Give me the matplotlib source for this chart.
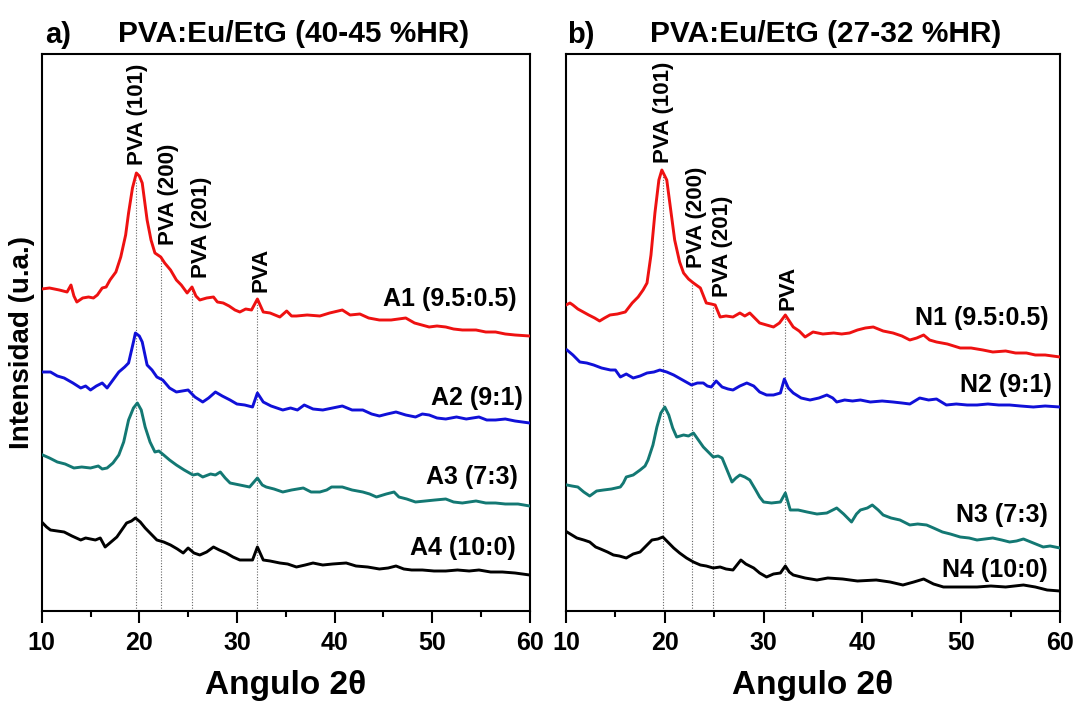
import matplotlib
matplotlib.use("Agg")
import matplotlib.pyplot as plt
from matplotlib.ticker import MultipleLocator

plt.rcParams["font.family"] = ["Liberation Sans", "DejaVu Sans"]
plt.rcParams["font.weight"] = "bold"

# ---- data (angle 2theta, intensity a.u.) ----
a1_x = [10.0, 10.8, 11.8, 12.6, 13.0, 13.3, 13.6, 14.2, 14.8, 15.3, 15.7, 16.2, 16.6, 17.0, 17.6, 18.1,
        18.6, 18.9, 19.3, 19.7, 20.0, 20.3, 20.8, 21.2, 21.6, 22.2, 22.6, 23.2, 23.8, 24.3, 24.9, 25.4,
        25.8, 26.2, 26.9, 27.6, 28.0, 28.6, 29.2, 29.8, 30.3, 30.9, 31.5, 32.1, 32.7, 33.4, 34.4, 35.1,
        35.6, 36.1, 37.2, 38.5, 39.5, 40.8, 41.6, 42.6, 43.5, 44.6, 45.8, 47.3, 48.2, 49.7, 50.5, 51.4,
        52.2, 53.1, 54.5, 55.5, 56.5, 57.5, 58.5, 60.0]
a1_y = [322, 323, 321, 319, 326, 315, 309, 313, 314, 313, 316, 323, 324, 331, 339, 354,
        376, 398, 423, 438, 435, 428, 391, 371, 358, 354, 348, 341, 331, 326, 318, 324,
        315, 311, 313, 314, 309, 308, 305, 301, 299, 302, 301, 312, 299, 298, 294, 300,
        295, 295, 296, 295, 298, 301, 296, 297, 293, 291, 291, 293, 288, 284, 285, 284,
        282, 281, 281, 279, 279, 277, 276, 275]

a2_x = [10.1, 10.9, 11.6, 12.3, 13.2, 14.0, 14.5, 15.0, 15.6, 16.2, 16.7, 17.3, 17.9, 18.5, 18.9, 19.4,
        19.6, 20.0, 20.3, 20.8, 21.3, 21.8, 22.4, 23.1, 23.8, 24.4, 25.0, 25.7, 26.5, 27.1, 27.8, 28.5,
        29.3, 30.0, 30.8, 31.6, 32.1, 32.7, 33.5, 34.7, 35.5, 36.2, 36.9, 37.8, 38.8, 39.8, 40.8, 41.8,
        42.9, 43.8, 44.6, 45.4, 46.3, 47.3, 48.3, 49.0, 49.7, 50.5, 51.4, 52.5, 53.5, 54.8, 55.6, 56.5,
        57.5, 58.5, 60.0]
a2_y = [239, 239, 235, 233, 228, 223, 225, 221, 225, 228, 223, 231, 239, 244, 248, 269,
        278, 275, 269, 246, 241, 234, 231, 223, 219, 220, 221, 214, 209, 213, 219, 215,
        211, 207, 206, 204, 218, 209, 205, 201, 203, 201, 206, 202, 201, 203, 205, 201,
        201, 197, 195, 197, 199, 196, 194, 197, 196, 193, 192, 194, 192, 194, 191, 191,
        192, 190, 188]

a3_x = [10.1, 10.8, 11.6, 12.4, 13.3, 14.1, 15.0, 15.8, 16.2, 16.7, 17.3, 17.9, 18.4, 18.9, 19.4, 19.8,
        20.2, 20.6, 21.1, 21.6, 22.0, 22.5, 23.1, 23.8, 24.6, 25.5, 26.0, 26.5, 27.3, 27.8, 28.3, 28.8,
        29.3, 30.3, 31.3, 32.1, 32.6, 33.0, 33.8, 34.7, 35.6, 36.8, 37.6, 38.5, 39.2, 39.7, 40.8, 41.8,
        42.9, 43.6, 44.3, 45.3, 46.1, 46.6, 47.4, 48.3, 49.3, 50.3, 51.4, 52.2, 53.1, 54.5, 55.5, 56.5,
        57.5, 58.8, 60.0]
a3_y = [156, 153, 149, 147, 143, 144, 143, 145, 142, 143, 148, 156, 169, 191, 203, 208,
        201, 184, 169, 159, 160, 156, 151, 146, 141, 136, 137, 134, 137, 136, 139, 133,
        128, 126, 124, 133, 126, 124, 122, 119, 121, 123, 119, 119, 121, 124, 124, 121,
        119, 117, 114, 117, 119, 114, 112, 109, 110, 111, 112, 109, 108, 110, 108, 108,
        107, 107, 105]

a4_x = [10.1, 10.5, 10.9, 11.6, 12.3, 13.1, 14.0, 14.5, 15.0, 15.5, 16.0, 16.5, 17.1, 17.7, 18.2, 18.7,
        19.2, 19.6, 20.1, 20.6, 21.2, 21.8, 22.5, 23.2, 23.9, 24.5, 25.0, 25.6, 26.2, 26.9, 27.6, 28.2,
        28.9, 29.6, 30.3, 31.0, 31.6, 32.1, 32.7, 33.4, 34.4, 35.2, 36.1, 37.0, 37.8, 38.8, 39.8, 41.2,
        42.2, 43.4, 44.6, 45.5, 46.3, 47.1, 47.9, 49.0, 50.2, 51.4, 52.6, 53.8, 54.8, 56.0, 57.2, 58.5,
        60.0]
a4_y = [88, 84, 81, 80, 79, 75, 71, 73, 72, 71, 73, 64, 69, 74, 81, 88,
        90, 93, 89, 83, 77, 71, 69, 66, 62, 58, 63, 58, 56, 59, 64, 61,
        58, 54, 51, 51, 51, 64, 51, 50, 48, 47, 44, 46, 48, 46, 47, 48,
        45, 44, 42, 43, 45, 42, 41, 41, 40, 40, 41, 40, 41, 39, 39, 38,
        36]

n1_x = [10.0, 10.4, 10.7, 11.2, 11.75, 12.3, 12.9, 13.4, 13.9, 14.45, 15.2, 16.0, 16.7, 17.3, 17.8, 18.2,
        18.6, 19.0, 19.4, 19.7, 20.2, 20.6, 21.0, 21.5, 21.9, 22.4, 22.9, 23.6, 24.2, 24.7, 25.1, 25.6,
        26.2, 26.9, 27.6, 28.1, 28.6, 29.1, 29.6, 30.3, 31.0, 31.6, 32.2, 32.6, 33.0, 33.6, 34.2, 35.0,
        36.0, 37.1, 37.9, 38.7, 39.5, 40.3, 41.1, 42.1, 43.1, 44.0, 44.8, 45.5, 46.2, 46.8, 47.5, 48.6,
        49.9, 51.0, 52.2, 53.2, 54.5, 55.5, 56.6, 57.5, 58.5, 60.0]
n1_y = [306, 308, 306, 302, 299, 296, 293, 290, 293, 296, 297, 299, 308, 314, 321, 328,
        356, 398, 431, 441, 431, 401, 371, 349, 338, 332, 328, 323, 308, 307, 306, 294,
        295, 294, 298, 295, 298, 293, 288, 286, 284, 288, 296, 290, 284, 280, 274, 279,
        277, 278, 277, 278, 281, 283, 284, 280, 278, 275, 271, 273, 276, 271, 269, 267,
        263, 263, 261, 259, 260, 258, 258, 256, 256, 254]

n2_x = [10.1, 10.7, 11.4, 12.1, 12.8, 13.6, 14.5, 15.0, 15.5, 16.1, 16.8, 17.5, 18.2, 18.9, 19.5, 20.2,
        20.9, 21.8, 22.7, 23.3, 23.9, 24.3, 24.7, 25.2, 25.8, 26.4, 26.9, 27.6, 28.3, 29.0, 29.6, 30.3,
        31.0, 31.7, 32.1, 32.5, 33.0, 33.8, 34.7, 35.6, 36.4, 37.0, 37.4, 38.2, 39.0, 39.8, 40.8, 42.0,
        43.1, 44.0, 44.8, 45.8, 46.7, 47.5, 48.5, 49.5, 50.6, 51.6, 52.7, 53.8, 54.9, 56.0, 57.3, 58.5,
        60.0]
n2_y = [261, 256, 249, 248, 246, 243, 241, 241, 234, 237, 233, 235, 238, 239, 241, 239,
        236, 231, 226, 228, 228, 225, 224, 230, 224, 222, 221, 225, 228, 225, 219, 216,
        216, 218, 232, 223, 218, 213, 211, 213, 216, 213, 209, 211, 210, 211, 209, 210,
        209, 208, 207, 213, 211, 212, 206, 207, 206, 206, 207, 206, 206, 205, 204, 205,
        204]

n3_x = [10.1, 10.6, 11.2, 11.8, 12.4, 13.1, 13.8, 14.6, 15.5, 15.8, 16.1, 16.8, 17.5, 18.0, 18.3, 18.8,
        19.2, 19.6, 20.0, 20.4, 20.8, 21.2, 21.9, 22.4, 22.9, 23.4, 23.9, 24.4, 24.9, 25.4, 25.8, 26.3,
        26.8, 27.2, 27.6, 28.1, 28.6, 29.2, 29.6, 30.0, 30.8, 31.7, 32.2, 32.7, 33.5, 34.4, 35.4, 36.4,
        37.4, 38.1, 38.9, 39.4, 39.8, 40.5, 41.0, 41.6, 42.1, 42.9, 43.8, 44.8, 45.6, 46.5, 47.2, 48.1,
        48.9, 49.9, 50.8, 51.6, 52.4, 53.2, 54.1, 54.9, 55.6, 56.3, 57.3, 58.3, 59.0, 60.0]
n3_y = [126, 125, 124, 119, 115, 120, 121, 122, 124, 128, 134, 136, 141, 145, 151, 166,
        184, 198, 204, 196, 183, 174, 176, 175, 178, 171, 164, 159, 154, 155, 153, 141,
        129, 133, 136, 134, 131, 121, 114, 109, 108, 109, 118, 101, 101, 99, 97, 98,
        103, 97, 89, 97, 101, 103, 106, 101, 96, 93, 91, 86, 87, 86, 83, 79,
        77, 74, 73, 71, 72, 73, 71, 69, 70, 72, 68, 64, 65, 63]

n4_x = [10.1, 10.6, 11.1, 11.8, 12.4, 13.0, 13.5, 14.2, 14.8, 15.4, 16.1, 16.8, 17.5, 18.1, 18.7, 19.3,
        19.8, 20.3, 20.9, 21.5, 22.2, 22.9, 23.6, 24.2, 24.9, 25.6, 26.2, 26.9, 27.3, 27.7, 28.2, 29.0,
        29.6, 30.3, 31.0, 31.7, 32.2, 32.6, 33.0, 34.2, 35.4, 36.5, 38.0, 39.5, 41.4, 42.8, 44.1, 45.2,
        46.2, 47.2, 48.2, 49.9, 51.6, 53.0, 54.5, 56.3, 57.5, 58.7, 60.0]
n4_y = [79, 76, 73, 71, 69, 64, 62, 59, 56, 55, 53, 57, 59, 65, 71, 72,
        74, 69, 63, 58, 53, 49, 46, 45, 43, 44, 42, 41, 46, 51, 47, 43,
        38, 34, 37, 38, 45, 39, 36, 33, 31, 33, 32, 30, 31, 29, 26, 29,
        32, 27, 24, 24, 24, 25, 24, 26, 24, 21, 20]

# sample labels, with position (angle of right edge, intensity)
labels_a = ["A1 (9.5:0.5)", "A2 (9:1)", "A3 (7:3)", "A4 (10:0)"]
labels_a_pos = [(58.7, 312), (59.25, 213), (58.75, 134), (58.55, 63)]
labels_b = ["N1 (9.5:0.5)", "N2 (9:1)", "N3 (7:3)", "N4 (10:0)"]
labels_b_pos = [(58.8, 293), (59.2, 226), (58.8, 96), (58.8, 41)]

# PVA reflections: name, line position, line top, text x, text bottom
peaks_a = [("PVA (101)", 19.7, 431, 19.77, 446), ("PVA (200)", 22.2, 354, 23.0, 366),
           ("PVA (201)", 25.4, 324, 26.4, 333), ("PVA", 32.1, 312, 32.5, 319)]
peaks_b = [("PVA (101)", 19.85, 435, 19.9, 448), ("PVA (200)", 22.8, 330, 23.25, 343),
           ("PVA (201)", 24.85, 306, 25.8, 314), ("PVA", 32.2, 296, 32.5, 301)]

colors = ["#ee1111", "#1010d8", "#137873", "#000000"]

W, H = 1075, 701
fig = plt.figure(figsize=(W / 100, H / 100), dpi=100)
ax_a = fig.add_axes([41.7 / W, (H - 611) / H, 488 / W, 557 / H])
ax_b = fig.add_axes([566 / W, (H - 611) / H, 494 / W, 557 / H])

panels = [
    (ax_a, [(a1_x, a1_y), (a2_x, a2_y), (a3_x, a3_y), (a4_x, a4_y)], labels_a, labels_a_pos, peaks_a),
    (ax_b, [(n1_x, n1_y), (n2_x, n2_y), (n3_x, n3_y), (n4_x, n4_y)], labels_b, labels_b_pos, peaks_b),
]

for ax, curves, labs, labpos, peaks in panels:
    for name, px, top, tx, tb in peaks:
        ax.plot([px, px], [0, top], color="#666666", lw=0.8, ls=(0, (1, 1.5)), zorder=1)
        ax.text(tx, tb, name, rotation=90, ha="center", va="bottom",
                fontsize=16, fontweight="bold")
    for (x, y), c in zip(curves, colors):
        ax.plot(x, y, color=c, lw=2.1, zorder=3)
    for lab, (lx, ly) in zip(labs, labpos):
        ax.text(lx, ly, lab, ha="right", va="center", fontsize=18, fontweight="bold")

    ax.set_xlim(10, 60)
    ax.set_ylim(0, 557)
    ax.xaxis.set_major_locator(MultipleLocator(10))
    ax.xaxis.set_minor_locator(MultipleLocator(5))
    ax.tick_params(axis="x", which="major", direction="out", length=8.5, width=1.5,
                   labelsize=18, pad=6)
    ax.tick_params(axis="x", which="minor", direction="out", length=4.3, width=1.5)
    ax.set_yticks([])
    for sp in ax.spines.values():
        sp.set_linewidth(1.5)
    for lbl in ax.get_xticklabels():
        lbl.set_fontweight("bold")

# titles and axis labels
fig.text(45 / W, 1 - 35 / H, "a)", ha="left", va="center", fontsize=21, fontweight="bold")
fig.text(294 / W, 1 - 34 / H, "PVA:Eu/EtG (40-45 %HR)", ha="center", va="center",
         fontsize=21.5, fontweight="bold")
fig.text(567 / W, 1 - 35 / H, "b)", ha="left", va="center", fontsize=21, fontweight="bold")
fig.text(826 / W, 1 - 34 / H, "PVA:Eu/EtG (27-32 %HR)", ha="center", va="center",
         fontsize=21.5, fontweight="bold")
fig.text(22 / W, 1 - 343 / H, "Intensidad (u.a.)", rotation=90, ha="center", va="center",
         fontsize=20, fontweight="bold")
fig.text(286 / W, (H - 694) / H, "Angulo 2θ", ha="center", va="baseline",
         fontsize=24, fontweight="bold")
fig.text(813 / W, (H - 694) / H, "Angulo 2θ", ha="center", va="baseline",
         fontsize=24, fontweight="bold")

fig.savefig("out.png", dpi=100)
